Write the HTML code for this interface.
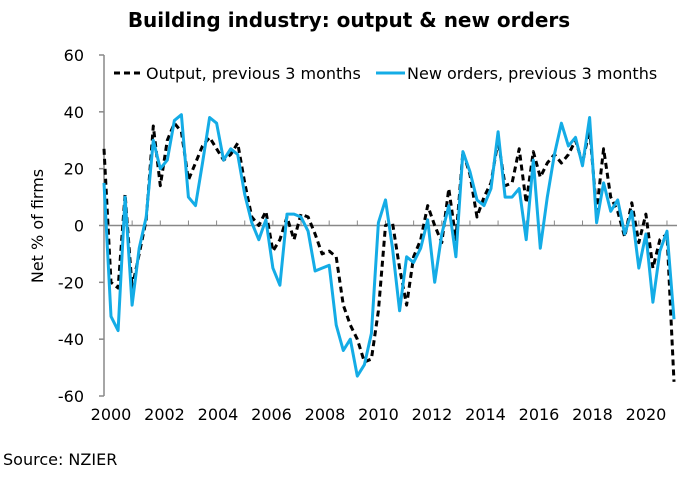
<!DOCTYPE html>
<html><head><meta charset="utf-8"><style>
body{margin:0;background:#fff;}
svg text{font-family:"DejaVu Sans","Liberation Sans",sans-serif;fill:#000;}
</style></head><body>
<svg id="chart" width="697" height="473" xmlns="http://www.w3.org/2000/svg">
<text x="349" y="27" text-anchor="middle" font-size="20" font-weight="bold">Building industry: output &amp; new orders</text>
<g id="yaxis"></g>
<g id="xaxis"></g>
<text transform="translate(43,226) rotate(-90)" text-anchor="middle" font-size="16">Net % of firms</text>
<g id="series"></g>
<g>
<g>
<line x1="114" y1="73" x2="144" y2="73" stroke="#000" stroke-width="3" stroke-dasharray="6,4"/>
<text x="146" y="79" font-size="16">Output, previous 3 months</text></g>
<g>
<line x1="376" y1="73" x2="405" y2="73" stroke="#14ace6" stroke-width="3"/>
<text x="407" y="79" font-size="16">New orders, previous 3 months</text></g>
</g>
<text x="3" y="465" font-size="16">Source: NZIER</text>
</svg>
<script>
const yTicks=[60,40,20,0,-20,-40,-60];
const xLabels=["2000","2002","2004","2006","2008","2010","2012","2014","2016","2018","2020"];
const output=[27,-20,-22,11,-22,-10,2,35,14,30,36,33,16,22,28,31,27,23,25,29,15,3,0,5,-9,-5,3,-5,4,3,-3,-10,-9,-11,-28,-35,-40,-48,-47,-30,0,1,-15,-28,-11,-5,7,0,-6,13,-5,26,18,3,10,15,30,14,15,27,8,26,17,22,25,22,25,30,22,34,5,27,10,5,-4,8,-6,4,-15,-5,-3,-55];
const newOrders=[15,-32,-37,10,-28,-8,3,30,20,23,37,39,10,7,22,38,36,23,27,25,11,1,-5,2,-15,-21,4,4,3,-2,-16,-15,-14,-35,-44,-40,-53,-49,-38,1,9,-8,-30,-11,-13,-8,2,-20,-3,7,-11,26,19,9,7,13,33,10,10,13,-5,23,-8,10,25,36,28,31,21,38,1,15,5,9,-3,5,-15,-3,-27,-9,-2,-33];
const NS="http://www.w3.org/2000/svg";
const x0=104,x1=674,yTop=55,yBot=396;
function yS(v){return yTop+(60-v)/120*(yBot-yTop);}
function xS(i,n){return x0+i*(x1-x0)/(n-1);}
const ya=document.getElementById('yaxis');
const xa=document.getElementById('xaxis');
function mk(tag,attrs,parent){const e=document.createElementNS(NS,tag);for(const k in attrs)e.setAttribute(k,attrs[k]);parent.appendChild(e);return e;}
mk('line',{x1:x0,y1:yTop,x2:x0,y2:yBot,stroke:'#888','stroke-width':1.5},ya);
yTicks.forEach(v=>{
  mk('line',{x1:x0-5,y1:yS(v),x2:x0,y2:yS(v),stroke:'#888','stroke-width':1.5},ya);
  const t=mk('text',{x:x0-20,y:yS(v)+6,'text-anchor':'end','font-size':16},ya);
  
  
  t.textContent=v;
});
mk('line',{x1:x0,y1:yS(0),x2:677,y2:yS(0),stroke:'#888','stroke-width':1.5},xa);
for(let y=0;y<=20;y++){const xx=x0+y*(x1-x0)/20.25;mk('line',{x1:xx,y1:yS(0),x2:xx,y2:yS(0)-5,stroke:'#888','stroke-width':1},xa);}
xLabels.forEach((l,i)=>{
  const t=mk('text',{x:111+i*53.5,y:420,'text-anchor':'middle','font-size':16},xa);
  
  
  t.textContent=l;
});
const sg=document.getElementById('series');
function line(data,attrs,name){
  const pts=data.map((v,i)=>xS(i,data.length).toFixed(1)+','+yS(v).toFixed(1)).join(' ');
  const p=mk('polyline',Object.assign({points:pts,fill:'none','stroke-linejoin':'round'},attrs),sg);
  
  
}
line(output,{stroke:'#000','stroke-width':3,'stroke-dasharray':'6,4'},'output-line');
line(newOrders,{stroke:'#14ace6','stroke-width':3},'new-orders-line');
</script>
</body></html>
